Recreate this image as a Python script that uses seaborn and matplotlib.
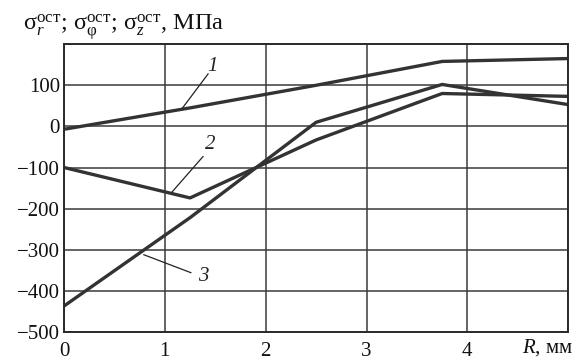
import matplotlib
matplotlib.use("Agg")
import matplotlib.pyplot as plt
import seaborn as sns
import pandas as pd

# Data
R = [0, 1.25, 2.5, 3.75, 5.0]
curve1 = [-7, 45, 100, 158, 165]
curve2 = [-100, -174, -33, 80, 73]
curve3 = [-437, -222, 10, 102, 53]
curve_names = ["1", "2", "3"]

x_ticks = [0, 1, 2, 3, 4, 5]
x_ticklabels = ["0", "1", "2", "3", "4", ""]
y_ticks = [-500, -400, -300, -200, -100, 0, 100]

sns.set_style("white")
plt.rcParams["font.family"] = ["Liberation Serif", "DejaVu Serif"]
plt.rcParams["mathtext.fontset"] = "custom"
plt.rcParams["mathtext.rm"] = "Liberation Serif"
plt.rcParams["mathtext.it"] = "Liberation Serif:italic"
plt.rcParams["mathtext.bf"] = "Liberation Serif:bold"
plt.rcParams["axes.unicode_minus"] = True

df = pd.DataFrame({
    "R": R * 3,
    "sigma": curve1 + curve2 + curve3,
    "curve": sum([[n] * len(R) for n in curve_names], []),
})

fig = plt.figure(figsize=(5.87, 3.62), dpi=100)
ax = fig.add_axes([0.109, 0.083, 0.859, 0.795])

sns.lineplot(data=df, x="R", y="sigma", hue="curve", units="curve", estimator=None,
             palette=["#333333"] * 3, linewidth=2.4, legend=False, ax=ax, sort=False)

ax.set_xlim(0, 5)
ax.set_ylim(-500, 200)
ax.set_xticks(x_ticks)
ax.set_xticklabels(x_ticklabels)
ax.set_yticks(y_ticks + [200])
ax.set_yticklabels([f"{v}" if v >= 0 else f"\u2212{abs(v)}" for v in y_ticks] + [""])
ax.grid(True, color="#3a3a3a", linewidth=1.1)
ax.tick_params(axis="both", length=0, labelsize=15, colors="#111111")
ax.tick_params(axis="y", pad=3)
ax.tick_params(axis="x", pad=7)
for s in ax.spines.values():
    s.set_visible(True)
    s.set_color("#2a2a2a")
    s.set_linewidth(1.4)
ax.set_xlabel("")
ax.set_ylabel("")

# Curve labels with leader lines
lab_color = "#222222"
ax.plot([1.43, 1.17], [128, 43], color=lab_color, linewidth=0.9)
ax.text(1.47, 145, "1", fontsize=15, fontstyle="italic", ha="center", va="center", color=lab_color)
ax.plot([1.38, 1.07], [-73, -160], color=lab_color, linewidth=0.9)
ax.text(1.45, -44, "2", fontsize=15, fontstyle="italic", ha="center", va="center", color=lab_color)
ax.plot([1.26, 0.79], [-356, -312], color=lab_color, linewidth=0.9)
ax.text(1.38, -365, "3", fontsize=15, fontstyle="italic", ha="center", va="center", color=lab_color)

# Axis titles
fig.text(0.04, 0.917,
         r"$\mathrm{σ}_r^{\mathrm{ост}}$; $\mathrm{σ}_{\mathrm{φ}}^{\mathrm{ост}}$; "
         r"$\mathrm{σ}_z^{\mathrm{ост}}$, МПа",
         fontsize=17.5, ha="left", va="baseline", color="#111111")
ax.text(4.8, -512, r"$R$, мм", fontsize=15, ha="center", va="top", color="#111111")

fig.savefig("out.png", dpi=100)
